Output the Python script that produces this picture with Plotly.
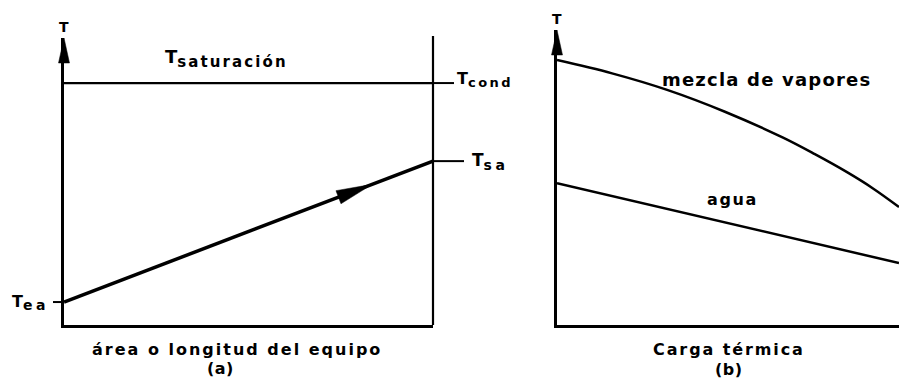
import math
import plotly.graph_objects as go

# ---- data -------------------------------------------------------------
# (a) condensing vapour at constant temperature, cooling water heating up
a_longitud = [0.0, 1.0]
T_saturacion = 84.3
T_ea = 8.0
T_sa = 57.1
arrow_frac = 0.835          # where the direction arrowhead sits on the water line

# (b) vapour mixture and cooling water against heat duty
b_carga = [0.0, 0.161, 0.322, 0.491, 0.661, 0.754, 0.848, 0.924, 1.0]
b_mezcla = [89.8, 85.3, 79.7, 72.3, 63.5, 57.9, 51.8, 46.3, 40.0]
b_agua_carga = [0.0, 1.0]
b_agua = [48.1, 21.0]

# ---- layout constants ---------------------------------------------------
W, H = 899, 379
FONT = "DejaVu Sans"
XA_DOM = [64 / W, 433 / W]
YA_DOM = [1 - 325 / H, 1 - 38 / H]
XB_DOM = [557 / W, 1.0]
YB_DOM = [1 - 325 / H, 1 - 30 / H]
LW = 2.5

fig = go.Figure()

# (a) saturation line, water heating line
fig.add_trace(go.Scatter(x=a_longitud, y=[T_saturacion] * 2, mode="lines",
                         line=dict(color="black", width=2.2),
                         xaxis="x", yaxis="y", hoverinfo="skip"))
fig.add_trace(go.Scatter(x=a_longitud, y=[T_ea, T_sa], mode="lines",
                         line=dict(color="black", width=3.5),
                         xaxis="x", yaxis="y", hoverinfo="skip"))

# (b) curves
fig.add_trace(go.Scatter(x=b_carga, y=b_mezcla, mode="lines",
                         line=dict(color="black", width=LW, shape="spline", smoothing=1.0),
                         xaxis="x2", yaxis="y2", hoverinfo="skip"))
fig.add_trace(go.Scatter(x=b_agua_carga, y=b_agua, mode="lines",
                         line=dict(color="black", width=LW),
                         xaxis="x2", yaxis="y2", hoverinfo="skip"))

axis_common = dict(showline=True, linecolor="black", linewidth=LW, showgrid=False,
                   zeroline=False, showticklabels=False, ticks="", fixedrange=True)

fig.update_layout(
    width=W, height=H, margin=dict(l=0, r=0, t=0, b=0),
    paper_bgcolor="white", plot_bgcolor="white", showlegend=False,
    font=dict(family=FONT, color="black"),
    xaxis=dict(domain=XA_DOM, range=[0, 1], anchor="y", **axis_common),
    yaxis=dict(domain=YA_DOM, range=[0, 100], anchor="x", **axis_common),
    xaxis2=dict(domain=XB_DOM, range=[0, 1], anchor="y2", **axis_common),
    yaxis2=dict(domain=YB_DOM, range=[0, 100], anchor="x2", **axis_common),
)

shapes = []
# right-hand edge of the exchanger in (a)
shapes.append(dict(type="line", xref="x domain", yref="y domain", x0=1, x1=1,
                   y0=0, y1=1.007, line=dict(color="black", width=2.2)))

# arrowheads on the temperature axes
for xr, yr in (("x domain", "y domain"), ("x2 domain", "y2 domain")):
    shapes.append(dict(type="path", xref=xr, yref=yr, xsizemode="pixel", ysizemode="pixel",
                       xanchor=0, yanchor=1, path="M0,0 L-5.5,-25 L5.5,-25 Z",
                       fillcolor="black", line=dict(color="black", width=0.5)))

# temperature ticks on panel (a)
for xa, x0, x1, yv in ((1, 0, 21, T_saturacion), (1, 0, 31, T_sa), (0, -11, 0, T_ea)):
    shapes.append(dict(type="line", xref="x domain", yref="y", xsizemode="pixel",
                       xanchor=xa, x0=x0, x1=x1, y0=yv, y1=yv,
                       line=dict(color="black", width=2)))

# arrowhead showing the water flow direction
sx = (XA_DOM[1] - XA_DOM[0]) * W / (a_longitud[1] - a_longitud[0])
sy = (YA_DOM[1] - YA_DOM[0]) * H / 100.0
dxp, dyp = (a_longitud[1] - a_longitud[0]) * sx, (T_sa - T_ea) * sy
n = math.hypot(dxp, dyp)
ux, uy = dxp / n, dyp / n
L, hw = 36, 7
bx, by = -L * ux, -L * uy
p1 = (bx - hw * uy, by + hw * ux)
p2 = (bx + hw * uy, by - hw * ux)
tip_x = a_longitud[0] + arrow_frac * (a_longitud[1] - a_longitud[0])
tip_y = T_ea + arrow_frac * (T_sa - T_ea)
shapes.append(dict(type="path", xref="x", yref="y", xsizemode="pixel", ysizemode="pixel",
                   xanchor=tip_x, yanchor=tip_y,
                   path=f"M0,0 L{p1[0]:.2f},{p1[1]:.2f} L{p2[0]:.2f},{p2[1]:.2f} Z",
                   fillcolor="black", line=dict(color="black", width=0.5)))
fig.update_layout(shapes=shapes)


def ls(text, px):
    return f'<span style="letter-spacing:{px}px">{text}</span>'


def sub(text, size, px):
    return f'<sub><span style="font-size:{size}px;letter-spacing:{px}px">{text}</span></sub>'


ann = []
bold = dict(family=FONT, color="black", weight="bold")
# axis names
ann.append(dict(text="T", x=0, y=1, xref="x domain", yref="y domain", xanchor="center",
                yanchor="bottom", yshift=1, font=dict(size=14, **bold)))
ann.append(dict(text="T", x=0, y=1, xref="x2 domain", yref="y2 domain", xanchor="center",
                yanchor="bottom", yshift=1, font=dict(size=14, **bold)))
# panel (a) labels
ann.append(dict(text="T" + sub("saturación", 15, 2.1), x=0.268, y=T_saturacion,
                xref="x", yref="y", xanchor="left", yanchor="bottom", yshift=10,
                font=dict(size=18, **bold)))
ann.append(dict(text="T" + sub("cond", 13, 2.5), x=1, y=T_saturacion, xref="x domain",
                yref="y", xanchor="left", yanchor="middle", xshift=22, yshift=4,
                font=dict(size=16, **bold)))
ann.append(dict(text="T" + sub("sa", 14, 3.5), x=1, y=T_sa, xref="x domain", yref="y",
                xanchor="left", yanchor="middle", xshift=37, font=dict(size=17, **bold)))
ann.append(dict(text="T" + sub("ea", 14, 3.5), x=0, y=T_ea, xref="x domain", yref="y",
                xanchor="right", yanchor="middle", xshift=-13, font=dict(size=16, **bold)))
ann.append(dict(text=ls("área o longitud del equipo", 2), x=0.469, y=1 - 349 / H,
                xref="x", yref="paper", xanchor="center", yanchor="middle",
                font=dict(size=16, **bold)))
ann.append(dict(text=ls("(a)", 0.5), x=0.425, y=1 - 368 / H, xref="x", yref="paper",
                xanchor="center", yanchor="middle", font=dict(size=16, **bold)))
# panel (b) labels
ann.append(dict(text=ls("mezcla de vapores", 1.2), x=0.614, y=83.1, xref="x2", yref="y2",
                xanchor="center", yanchor="middle", font=dict(size=18, **bold)))
ann.append(dict(text=ls("agua", 1.6), x=0.512, y=42.4, xref="x2", yref="y2",
                xanchor="center", yanchor="middle", font=dict(size=16, **bold)))
ann.append(dict(text=ls("Carga térmica", 1.9), x=0.503, y=1 - 349 / H, xref="x2",
                yref="paper", xanchor="center", yanchor="middle",
                font=dict(size=16, **bold)))
ann.append(dict(text=ls("(b)", 0.5), x=0.503, y=1 - 369 / H, xref="x2", yref="paper",
                xanchor="center", yanchor="middle", font=dict(size=16, **bold)))
for a in ann:
    a["showarrow"] = False
fig.update_layout(annotations=ann)

fig.write_html("out.html")
